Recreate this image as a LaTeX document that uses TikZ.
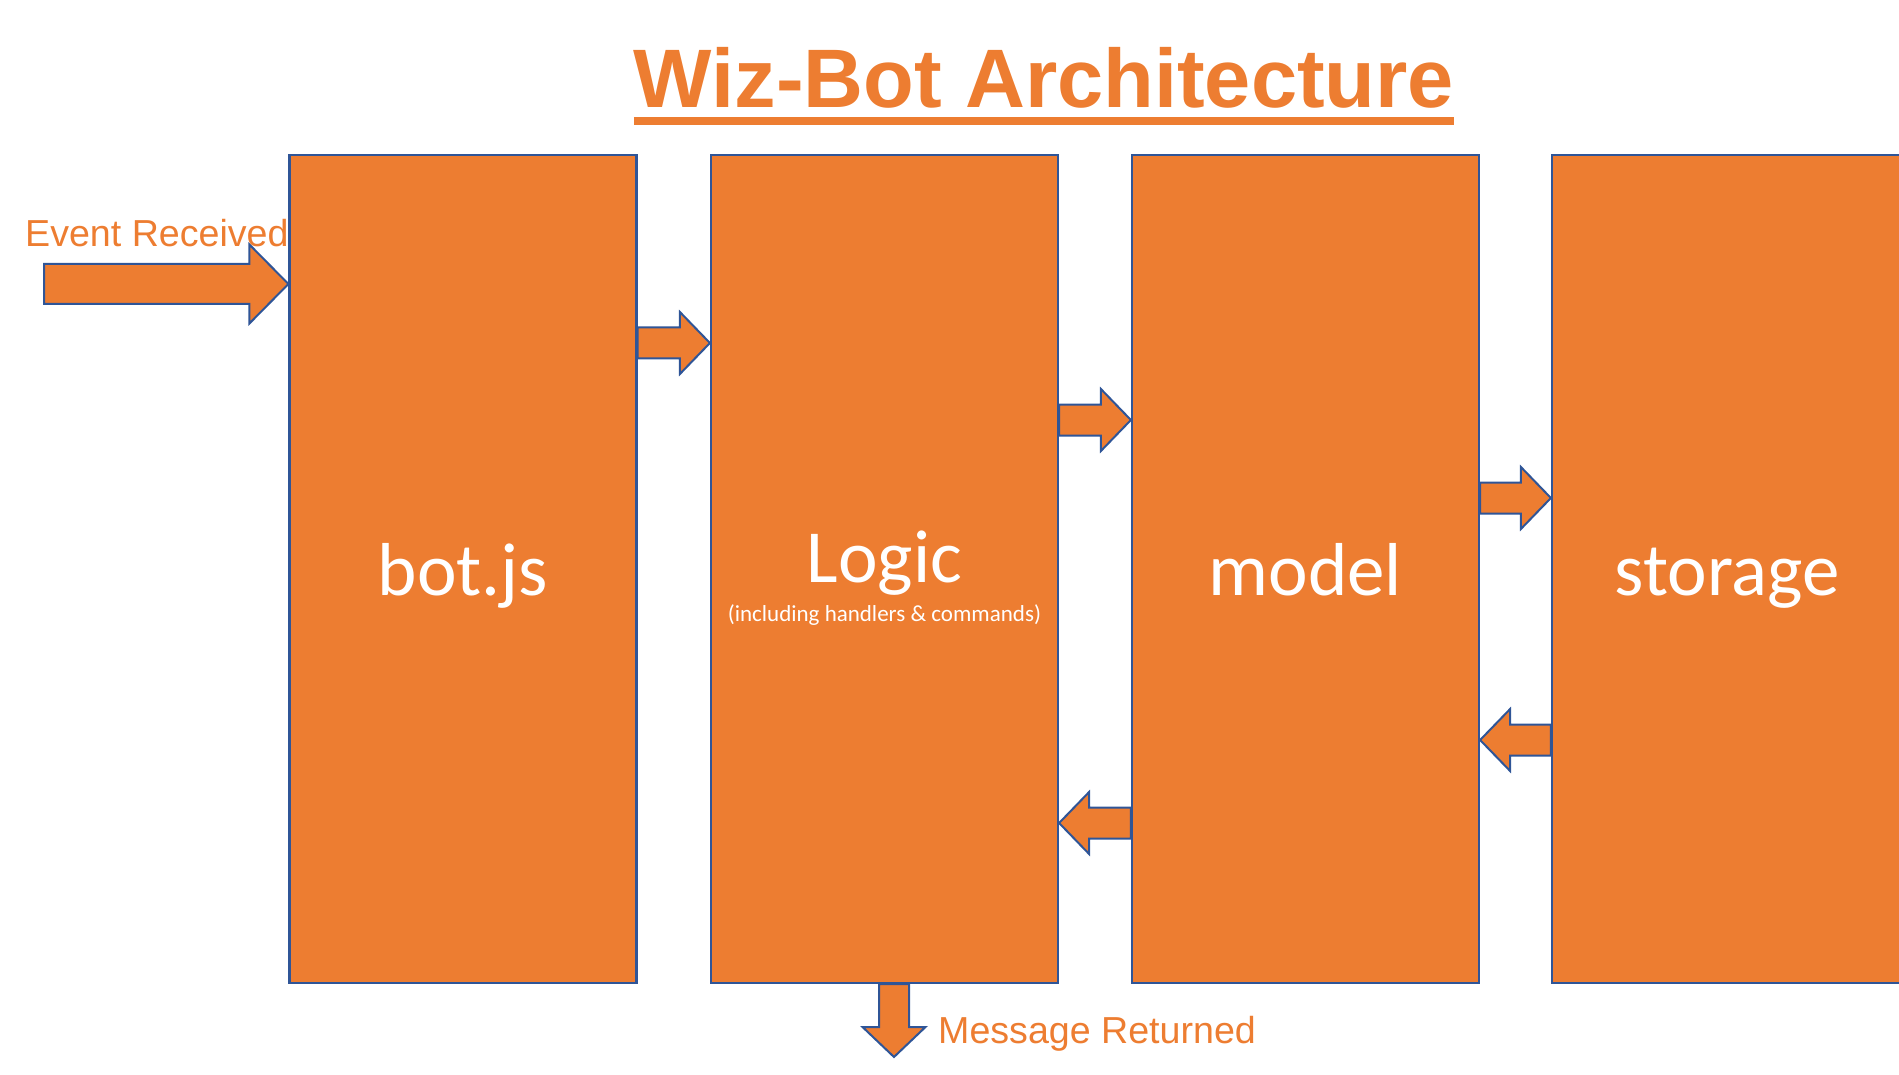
\documentclass[tikz,border=0pt]{standalone}
\usepackage{fontspec}
\setmainfont{Carlito}
\newfontfamily\arialfont{Liberation Sans}
\usetikzlibrary{calc}
\definecolor{wizorange}{HTML}{ED7D31}
\definecolor{wizblue}{HTML}{2F5597}

\begin{document}
\begin{tikzpicture}[x=1pt,y=-1pt]
  \tikzset{box/.style = {draw=wizblue, fill=wizorange, line width=2.2pt, inner sep=0pt,
      minimum width=347pt, minimum height=828pt, text=white,
      font=\fontsize{75}{80}\selectfont, text height=52pt, text depth=0pt},
    lbl/.style = {inner sep=0pt, text=wizorange, font=\arialfont\fontsize{37.6}{40}\selectfont},
    fat arrow/.style n args = {3}{draw=wizblue, fill=wizorange, line width=2pt,
      to path={($(\tikztostart)!#1!90:(\tikztotarget)$)
        -- ($(\tikztotarget)!#3!(\tikztostart)!#1!90:(\tikztotarget)$)
        -- ($(\tikztotarget)!#3!(\tikztostart)!#2!90:(\tikztotarget)$)
        -- (\tikztotarget)
        -- ($(\tikztotarget)!#3!(\tikztostart)!#2!-90:(\tikztotarget)$)
        -- ($(\tikztotarget)!#3!(\tikztostart)!#1!-90:(\tikztotarget)$)
        -- ($(\tikztostart)!#1!-90:(\tikztotarget)$) -- cycle}},
    small arrow/.style = {fat arrow={15.5pt}{31pt}{30pt}}}
  \useasboundingbox (0,0) rectangle (1899,1075);
  \clip (0,0) rectangle (1899,1075);
  % title
  \node[anchor=base, inner sep=0pt, text=wizorange,
    font=\arialfont\bfseries\fontsize{83}{90}\selectfont] (title) at (1044,108) {Wiz-Bot Architecture};
  \draw[wizorange, line width=8pt] ([yshift=-13pt]title.base west) -- ([yshift=-13pt]title.base east);
  % blocks
  \node[box] (bot) at (463,569) {bot.js};
  \node[box, text height=26pt] (logic) at (884.5,569) {Logic};
  \node[anchor=base, inner sep=0pt, text=white, font=\fontsize{23}{26}\selectfont]
    (logicsub) at (logic.center |- 0,621) {(including handlers \& commands)};
  \node[box] (model) at (1305.5,569) {model};
  \node[box, minimum width=350pt] (storage) at (1727,569) {storage};
  % arrows
  \coordinate (evin) at (44,284);
  \coordinate (msgout) at (894,1057);
  \draw[fat arrow={20pt}{39.5pt}{39pt}] (evin) to (evin -| bot.west);
  \draw[small arrow] (bot.east |- 0,343) to (logic.west |- 0,343);
  \draw[small arrow] (logic.east |- 0,420) to (model.west |- 0,420);
  \draw[small arrow] (model.east |- 0,498) to (storage.west |- 0,498);
  \draw[small arrow] (storage.west |- 0,740) to (model.east |- 0,740);
  \draw[small arrow] (model.west |- 0,823) to (logic.east |- 0,823);
  \draw[fat arrow={15pt}{31.5pt}{30pt}] (msgout |- logic.south) to (msgout);
  % labels
  \node[lbl, anchor=base west] (evlbl) at (25,247) {Event Received};
  \node[lbl, anchor=base west] (msglbl) at (938,1043) {Message Returned};
\end{tikzpicture}
\end{document}
